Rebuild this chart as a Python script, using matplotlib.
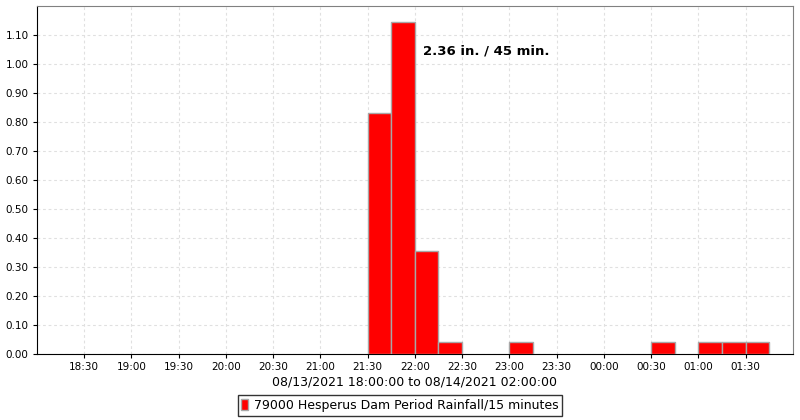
import matplotlib
matplotlib.use("Agg")
import matplotlib.pyplot as plt
import matplotlib.dates as mdates
from datetime import datetime, timedelta

# 15-minute rainfall periods (start time) and amounts in inches
period_start = ["2021-08-13 21:30", "2021-08-13 21:45", "2021-08-13 22:00",
                "2021-08-13 22:15", "2021-08-13 23:00", "2021-08-14 00:30",
                "2021-08-14 01:00", "2021-08-14 01:15", "2021-08-14 01:30"]
rainfall = [0.83, 1.145, 0.355, 0.04, 0.04, 0.04, 0.04, 0.04, 0.04]

tick_labels = ["18:30", "19:00", "19:30", "20:00", "20:30", "21:00", "21:30",
               "22:00", "22:30", "23:00", "23:30", "00:00", "00:30", "01:00", "01:30"]
y_ticks = [0.0, 0.1, 0.2, 0.3, 0.4, 0.5, 0.6, 0.7, 0.8, 0.9, 1.0, 1.1]

series_name = "79000 Hesperus Dam Period Rainfall/15 minutes"
annotation = "2.36 in. / 45 min."

t0 = datetime(2021, 8, 13, 18, 0)
t1 = datetime(2021, 8, 14, 2, 0)
starts = [datetime.strptime(s, "%Y-%m-%d %H:%M") for s in period_start]

fig = plt.figure(figsize=(8, 4.2), dpi=100)
ax = fig.add_axes([0.046, 0.157, 0.945, 0.829])

width = 15 / (24 * 60)
bars = ax.bar(mdates.date2num(starts), rainfall, width=width, align="edge",
              color="#ff0000", edgecolor="#a8a8a8", linewidth=1.0,
              label=series_name, zorder=3)

ax.set_xlim(mdates.date2num(t0), mdates.date2num(t1))
ax.set_ylim(0, 1.2)

tick_pos = [mdates.date2num(t0 + timedelta(minutes=30 * (i + 1))) for i in range(len(tick_labels))]
ax.set_xticks(tick_pos)
ax.set_xticklabels(tick_labels, fontsize=7.5)
ax.set_yticks(y_ticks)
ax.set_yticklabels(["%.2f" % v for v in y_ticks], fontsize=7.5)
ax.tick_params(length=3, width=0.8, pad=3)

ax.grid(True, color="#e0e0e0", linestyle=(0, (2.5, 2.5)), linewidth=0.8, zorder=0)

for side in ["top", "right"]:
    ax.spines[side].set_color("#808080")
for side in ["left", "bottom"]:
    ax.spines[side].set_color("black")

ax.set_xlabel("08/13/2021 18:00:00 to 08/14/2021 02:00:00", fontsize=9, labelpad=2)

ax.text(mdates.date2num(datetime(2021, 8, 13, 22, 5)), 1.045, annotation,
        fontsize=9.5, fontweight="bold", va="center", ha="left")

leg = fig.legend(handles=[bars], labels=[series_name], loc="lower center",
                 bbox_to_anchor=(0.5, -0.005), fontsize=9, frameon=True,
                 fancybox=False, edgecolor="black", handlelength=0.5,
                 handleheight=1.0, handletextpad=0.5, borderpad=0.3)
leg.get_frame().set_linewidth(1.0)

fig.savefig("out.png", dpi=100)
